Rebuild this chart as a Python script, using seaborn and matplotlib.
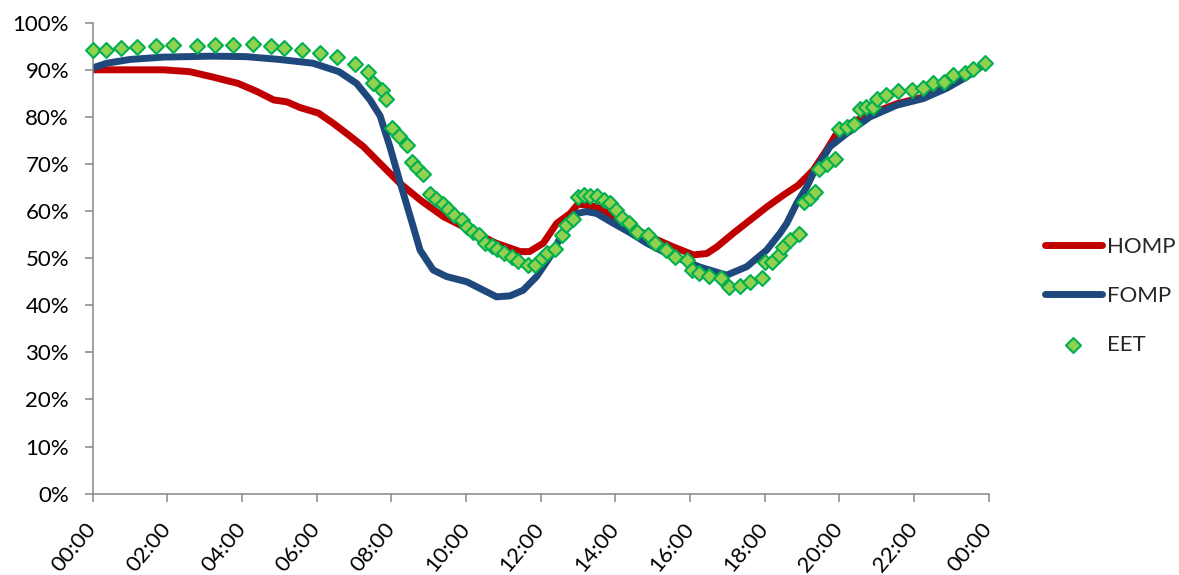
import matplotlib
matplotlib.use('Agg')
import matplotlib.pyplot as plt
import seaborn as sns

# hours of day (0-24) and percentages
homp_h = [0, 1, 1.9, 2.6, 3.2, 3.9, 4.4, 4.85, 5.2, 5.55, 6.05, 6.45, 6.8, 7.25, 7.7, 8.23,
          8.8, 9.4, 10.2, 10.8, 11.45, 11.7, 12.07, 12.43, 12.79, 13.0, 13.5, 14.13, 14.84,
          15.55, 16.09, 16.45, 16.72, 17.16, 17.61, 18.06, 18.5, 18.9, 19.3, 19.66, 19.93,
          20.2, 20.82, 21.54, 22.25, 22.88, 23.41, 24]
homp_v = [90.0, 90.0, 90.0, 89.6, 88.5, 87.1, 85.4, 83.6, 83.2, 82.0, 80.8, 78.6, 76.5, 73.7,
          70.1, 65.9, 62.2, 58.8, 55.6, 53.2, 51.4, 51.4, 53.2, 57.4, 59.5, 61.5, 60.9, 58.1,
          54.9, 52.4, 50.7, 51.0, 52.4, 55.3, 58.1, 60.9, 63.4, 65.5, 68.7, 73.0, 76.5, 78.3,
          80.6, 82.8, 84.2, 86.3, 88.8, 91.7]

fomp_h = [0, 0.38, 1.0, 1.9, 3.2, 4.1, 5.0, 5.9, 6.6, 7.07, 7.43, 7.7, 7.96, 8.23, 8.5, 8.77,
          9.12, 9.48, 10.02, 10.37, 10.82, 11.18, 11.53, 11.89, 12.25, 12.61, 12.96, 13.23,
          13.5, 13.95, 14.4, 14.84, 15.38, 16.27, 16.98, 17.52, 18.05, 18.41, 18.59, 18.86,
          19.13, 19.3, 19.75, 20.2, 20.82, 21.54, 22.25, 22.88, 23.41, 23.86, 24]
fomp_v = [90.4, 91.4, 92.2, 92.7, 92.9, 92.8, 92.2, 91.4, 89.6, 87.1, 83.6, 80.2, 73.7, 66.2,
          59.0, 51.7, 47.5, 46.1, 45.0, 43.6, 41.8, 42.0, 43.2, 46.1, 50.3, 55.6, 59.5, 59.9,
          59.5, 57.4, 55.4, 53.2, 51.0, 48.1, 46.4, 48.2, 51.7, 55.3, 57.4, 61.7, 65.2, 68.0,
          73.7, 76.5, 80.0, 82.5, 83.9, 86.1, 88.5, 91.0, 91.4]

eet_h = [0, 0.37, 0.75, 1.19, 1.70, 2.14, 2.79, 3.28, 3.77, 4.3, 4.77, 5.12, 5.6, 6.09, 6.55,
         7.03, 7.38, 7.52, 7.74, 7.86, 8.01, 8.21, 8.41, 8.54, 8.68, 8.86, 9.04, 9.2, 9.38,
         9.53, 9.68, 9.89, 10.02, 10.18, 10.36, 10.51, 10.69, 10.84, 11.02, 11.22, 11.4,
         11.67, 11.85, 12.03, 12.16, 12.38, 12.56, 12.69, 12.87, 13.01, 13.16, 13.32, 13.51,
         13.69, 13.85, 14.03, 14.17, 14.37, 14.57, 14.88, 15.06, 15.35, 15.6, 15.93, 16.05,
         16.25, 16.52, 16.82, 17.05, 17.34, 17.61, 17.92, 18.01, 18.19, 18.37, 18.5, 18.68,
         18.93, 19.04, 19.2, 19.35, 19.46, 19.66, 19.88, 20.0, 20.2, 20.39, 20.54, 20.71,
         20.91, 21.0, 21.25, 21.58, 21.94, 22.23, 22.5, 22.81, 23.05, 23.37, 23.59, 23.9]
eet_v = [94.2, 94.3, 94.7, 94.9, 95.1, 95.3, 95.1, 95.3, 95.3, 95.5, 95.1, 94.6, 94.2, 93.5,
         92.8, 91.2, 89.5, 87.1, 85.7, 83.7, 77.6, 75.9, 74.0, 70.5, 69.1, 67.9, 63.6, 62.5,
         61.5, 60.4, 59.2, 58.1, 56.7, 55.6, 54.9, 53.3, 52.6, 51.9, 51.2, 50.2, 49.5, 48.6,
         48.6, 50.0, 51.0, 51.9, 54.9, 57.0, 58.3, 63.1, 63.4, 63.2, 63.2, 62.3, 61.8, 60.2,
         58.5, 57.4, 55.6, 54.9, 53.2, 51.7, 50.2, 49.6, 47.5, 46.8, 46.2, 45.7, 43.8, 44.1,
         45.0, 45.9, 49.3, 49.3, 50.7, 52.4, 53.9, 55.1, 62.0, 62.7, 64.1, 68.9, 70.1, 71.0,
         77.4, 77.9, 78.6, 81.6, 82.0, 82.2, 83.9, 84.6, 85.4, 85.7, 86.1, 87.3, 87.5, 88.9,
         89.4, 90.1, 91.5]

x_ticks = list(range(0, 25, 2))
x_labels = ['00:00', '02:00', '04:00', '06:00', '08:00', '10:00', '12:00',
            '14:00', '16:00', '18:00', '20:00', '22:00', '00:00']
y_ticks = list(range(0, 101, 10))

sns.set_style('ticks')
plt.rcParams['font.family'] = ['Lato', 'DejaVu Sans']

fig = plt.figure(figsize=(11.79, 5.75), dpi=100)
ax = fig.add_axes([0.0786, 0.1414, 0.760, 0.8191])

sns.lineplot(x=homp_h, y=homp_v, color='#C00000', linewidth=5, label='HOMP', ax=ax,
             solid_capstyle='round')
sns.lineplot(x=fomp_h, y=fomp_v, color='#1F497D', linewidth=5, label='FOMP', ax=ax,
             solid_capstyle='round')
sns.scatterplot(x=eet_h, y=eet_v, marker='D', s=58, color='#92D050', edgecolor='#00B050',
                linewidth=1.5, label='EET', ax=ax, zorder=3, clip_on=False)

ax.set_xlim(0, 24)
ax.set_ylim(0, 100)
ax.set_xticks(x_ticks)
ax.set_xticklabels(x_labels, rotation=50, ha='right', va='center', rotation_mode='anchor')
ax.set_yticks(y_ticks)
ax.set_yticklabels([f'{v}%' for v in y_ticks])
ax.tick_params(axis='both', labelsize=16, length=6, width=1.1, color='#868686',
               labelcolor='black')
ax.tick_params(axis='y', pad=11)
ax.tick_params(axis='x', pad=17)
for s in ['left', 'bottom']:
    ax.spines[s].set_color('#868686')
    ax.spines[s].set_linewidth(1.1)
sns.despine(ax=ax)

handles, labels = ax.get_legend_handles_labels()
ax.get_legend().remove()
fig.legend(handles, labels, loc='center left', bbox_to_anchor=(0.869, 0.485),
           frameon=False, fontsize=16, labelspacing=1.3, handlelength=2.6,
           handletextpad=0.2)

plt.savefig('out.png', dpi=100)
